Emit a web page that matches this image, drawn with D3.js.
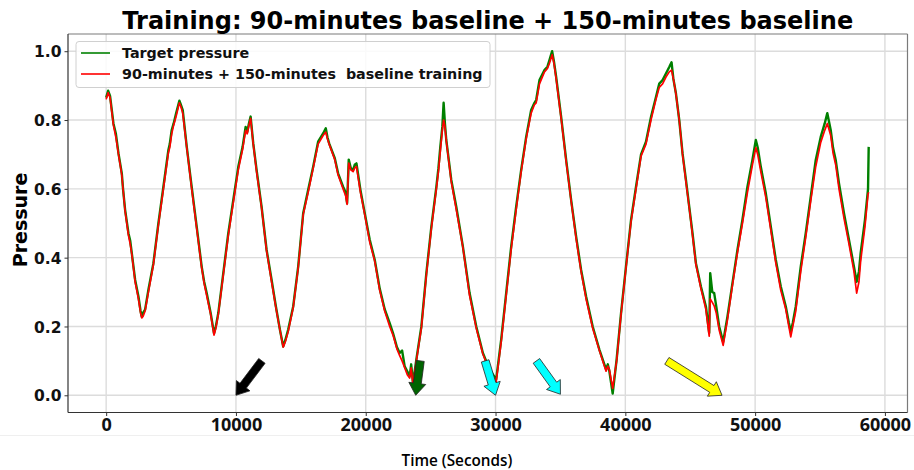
<!DOCTYPE html>
<html>
<head>
<meta charset="utf-8">
<script src="https://cdn.jsdelivr.net/npm/d3@7"></script>
<style>
  html, body { margin: 0; padding: 0; background: #fff; }
  svg { display: block; }
</style>
</head>
<body>
<div id="chart"></div>
<script>
// ---------------- data ----------------
const times = [0,150,300,560,750,950,1205,1300,1460,1718,1850,1975,2230,2487,2650,2745,2850,3000,3256,3640,4025,4410,4795,4900,5050,5200,5385,5640,5750,5900,6210,6590,6975,7360,7550,7745,8050,8310,8450,8640,9025,9410,9795,10180,10513,10745,10870,11000,11130,11333,11590,11975,12360,12745,13077,13385,13640,13800,14025,14410,14795,15180,15565,15950,16330,16715,16920,17050,17180,17615,17870,18255,18450,18565,18690,18850,19025,19150,19285,19590,19923,20308,20692,21077,21460,21846,22100,22400,22615,22800,23000,23200,23385,23500,23640,23900,24285,24670,25055,25440,25600,25746,25900,26000,26100,26205,26590,26975,27485,28000,28515,29025,29538,30050,30435,30820,31205,31590,31975,32360,32745,33000,33130,33385,33770,34000,34154,34360,34500,34670,35055,35440,35823,36210,36590,36977,37485,38000,38515,38650,38770,39025,39330,39670,40050,40440,40823,41210,41590,41977,42360,42615,42870,43130,43385,43560,43700,43900,44154,44408,44670,44923,45177,45438,45823,46208,46462,46540,46700,46846,47000,47230,47538,47870,48254,48640,49023,49408,49792,50054,50200,50438,50823,51208,51592,51977,52362,52600,52746,52900,53130,53515,53900,54285,54670,55054,55362,55562,55823,56000,56208,56462,56846,57230,57615,57823,58000,58130,58462,58700,58750];

const targetPressure = [0.865,0.885,0.87,0.79,0.76,0.703,0.645,0.6,0.539,0.471,0.45,0.413,0.336,0.287,0.245,0.228,0.24,0.249,0.307,0.384,0.5,0.606,0.713,0.73,0.771,0.79,0.819,0.856,0.845,0.829,0.722,0.606,0.49,0.374,0.33,0.297,0.239,0.18,0.2,0.239,0.355,0.471,0.568,0.664,0.722,0.78,0.765,0.79,0.81,0.732,0.655,0.548,0.423,0.336,0.258,0.191,0.142,0.16,0.191,0.258,0.374,0.529,0.597,0.664,0.737,0.761,0.776,0.75,0.732,0.689,0.645,0.606,0.59,0.558,0.685,0.66,0.655,0.67,0.674,0.597,0.529,0.452,0.394,0.31,0.25,0.21,0.181,0.14,0.123,0.13,0.084,0.07,0.055,0.09,0.036,0.104,0.2,0.355,0.49,0.606,0.66,0.722,0.78,0.85,0.79,0.742,0.626,0.548,0.432,0.297,0.2,0.123,0.075,0.046,0.162,0.297,0.432,0.548,0.655,0.751,0.829,0.85,0.858,0.916,0.945,0.955,0.974,1.0,0.97,0.925,0.809,0.684,0.568,0.461,0.365,0.287,0.2,0.133,0.075,0.09,0.07,0.005,0.104,0.239,0.374,0.51,0.606,0.7,0.737,0.809,0.867,0.906,0.916,0.935,0.954,0.968,0.92,0.877,0.8,0.703,0.626,0.548,0.471,0.384,0.316,0.258,0.181,0.355,0.3,0.297,0.26,0.2,0.155,0.229,0.326,0.423,0.51,0.606,0.684,0.742,0.72,0.664,0.587,0.49,0.394,0.316,0.258,0.21,0.185,0.21,0.258,0.374,0.471,0.577,0.684,0.751,0.79,0.82,0.771,0.72,0.684,0.616,0.529,0.452,0.374,0.33,0.36,0.413,0.51,0.6,0.722];

const trainedPressure = [0.86,0.88,0.865,0.785,0.75,0.7,0.64,0.6,0.535,0.465,0.44,0.41,0.33,0.28,0.24,0.225,0.23,0.245,0.3,0.38,0.495,0.6,0.705,0.72,0.76,0.785,0.81,0.85,0.84,0.82,0.72,0.6,0.485,0.37,0.325,0.29,0.235,0.175,0.195,0.235,0.35,0.465,0.56,0.655,0.715,0.77,0.76,0.785,0.805,0.73,0.65,0.545,0.42,0.33,0.255,0.19,0.14,0.155,0.185,0.255,0.37,0.525,0.59,0.66,0.73,0.755,0.765,0.745,0.73,0.685,0.64,0.6,0.58,0.555,0.675,0.655,0.65,0.66,0.665,0.59,0.525,0.445,0.39,0.305,0.245,0.2,0.175,0.135,0.115,0.1,0.08,0.06,0.05,0.08,0.03,0.1,0.195,0.35,0.485,0.6,0.65,0.71,0.77,0.8,0.78,0.74,0.62,0.54,0.43,0.29,0.195,0.12,0.07,0.04,0.155,0.29,0.425,0.54,0.65,0.745,0.82,0.845,0.85,0.905,0.94,0.95,0.965,0.99,0.965,0.92,0.805,0.68,0.565,0.455,0.36,0.28,0.195,0.13,0.07,0.085,0.075,0.02,0.1,0.235,0.37,0.505,0.6,0.695,0.73,0.8,0.86,0.895,0.905,0.925,0.94,0.945,0.92,0.875,0.8,0.7,0.62,0.545,0.465,0.38,0.31,0.25,0.172,0.28,0.27,0.26,0.24,0.19,0.145,0.22,0.32,0.415,0.5,0.59,0.67,0.72,0.7,0.65,0.575,0.48,0.385,0.305,0.25,0.2,0.17,0.2,0.245,0.36,0.46,0.565,0.665,0.735,0.77,0.79,0.755,0.705,0.67,0.6,0.515,0.44,0.36,0.297,0.33,0.39,0.49,0.585,0.59];

const xTicks = [0, 10000, 20000, 30000, 40000, 50000, 60000];
const yTicks = [0.0, 0.2, 0.4, 0.6, 0.8, 1.0];
const seriesNames = ["Target pressure", "90-minutes + 150-minutes  baseline training"];
const seriesColors = ["green", "red"];

// arrows: [tailX, tailY] -> [tipX, tipY] in data units
const arrowTails = [[12000, 0.1], [24200, 0.1], [29200, 0.1], [33150, 0.1], [43200, 0.1]];
const arrowTips  = [[10000, 0.0], [23850, 0.0], [30000, 0.0], [35000, 0.003], [47450, 0.0]];
const arrowColors = ["black", "darkgreen", "cyan", "cyan", "yellow"];

// ---------------- layout ----------------
const W = 914, H = 470;
const pLeft = 68, pRight = 907.5, pTop = 34, pBottom = 412.5;

const svg = d3.select("#chart").append("svg").attr("width", W).attr("height", H);

const xMin = 0, xMax = 58800;
const xPad = (xMax - xMin) * 0.05;
const x = d3.scaleLinear().domain([xMin - xPad, xMax + xPad]).range([pLeft, pRight]);
const y = d3.scaleLinear().domain([-0.05, 1.05]).range([pBottom, pTop]);

// faint separator line under tick labels
svg.append("line").attr("x1", 0).attr("x2", W).attr("y1", 435.5).attr("y2", 435.5)
  .attr("stroke", "#efefef").attr("stroke-width", 1);

// grid
const grid = svg.append("g");
grid.selectAll(".gx").data(xTicks).enter().append("line")
  .attr("x1", d => x(d)).attr("x2", d => x(d)).attr("y1", pTop).attr("y2", pBottom)
  .attr("stroke", "#dcdcdc").attr("stroke-width", 1.4);
grid.selectAll(".gy").data(yTicks).enter().append("line")
  .attr("x1", pLeft).attr("x2", pRight).attr("y1", d => y(d)).attr("y2", d => y(d))
  .attr("stroke", "#dcdcdc").attr("stroke-width", 1.4);

// lines
const data1 = times.map((t, i) => [t, targetPressure[i]]);
const data2 = times.map((t, i) => [t, trainedPressure[i]]);
const line = d3.line().x(d => x(d[0])).y(d => y(d[1]));

const plot = svg.append("g");
plot.append("path").datum(data1).attr("d", line).attr("fill", "none")
  .attr("stroke", seriesColors[0]).attr("stroke-width", 2.4).attr("stroke-linejoin", "round");
plot.append("path").datum(data2).attr("d", line).attr("fill", "none")
  .attr("stroke", seriesColors[1]).attr("stroke-width", 1.7).attr("stroke-linejoin", "round");

// arrows
const arrowG = svg.append("g");
arrowTails.forEach((tail, i) => {
  const p0 = [x(tail[0]), y(tail[1])];
  const p1 = [x(arrowTips[i][0]), y(arrowTips[i][1])];
  const dx = p1[0] - p0[0], dy = p1[1] - p0[1];
  const L = Math.hypot(dx, dy);
  const ux = dx / L, uy = dy / L, nx = -uy, ny = ux;
  const w = 4, hw = 8.5, hl = 12;
  const nk = [p1[0] - ux * hl, p1[1] - uy * hl];
  const pts = [
    [p0[0] + nx * w, p0[1] + ny * w],
    [nk[0] + nx * w, nk[1] + ny * w],
    [nk[0] + nx * hw, nk[1] + ny * hw],
    p1,
    [nk[0] - nx * hw, nk[1] - ny * hw],
    [nk[0] - nx * w, nk[1] - ny * w],
    [p0[0] - nx * w, p0[1] - ny * w]
  ];
  arrowG.append("polygon").attr("points", pts.map(p => p.join(",")).join(" "))
    .attr("fill", arrowColors[i]).attr("stroke", "#222").attr("stroke-width", 0.8)
    .attr("stroke-linejoin", "miter");
});

// spines
svg.append("line").attr("x1", pLeft).attr("x2", pRight).attr("y1", pTop).attr("y2", pTop)
  .attr("stroke", "#7a7a7a").attr("stroke-width", 1.2);
svg.append("line").attr("x1", pRight).attr("x2", pRight).attr("y1", pTop).attr("y2", pBottom)
  .attr("stroke", "#7a7a7a").attr("stroke-width", 1.2);
svg.append("line").attr("x1", pLeft).attr("x2", pLeft).attr("y1", pTop).attr("y2", pBottom)
  .attr("stroke", "#333").attr("stroke-width", 1.2);
svg.append("line").attr("x1", pLeft).attr("x2", pRight).attr("y1", pBottom).attr("y2", pBottom)
  .attr("stroke", "#333").attr("stroke-width", 1.2);

// axes
const xAxis = d3.axisBottom(x).tickValues(xTicks).tickSize(3.5).tickPadding(3).tickFormat(d3.format("d"));
const gx = svg.append("g").attr("transform", `translate(0,${pBottom})`).call(xAxis);
gx.select(".domain").remove();
gx.selectAll(".tick line").attr("stroke", "#333");
gx.selectAll(".tick text").attr("font-family", "'Open Sans', sans-serif").attr("font-weight", "bold")
  .attr("font-size", 18).attr("fill", "#111").attr("dy", null).attr("y", 18.5);

const yAxis = d3.axisLeft(y).tickValues(yTicks).tickSize(3.5).tickPadding(4).tickFormat(d3.format(".1f"));
const gy = svg.append("g").attr("transform", `translate(${pLeft},0)`).call(yAxis);
gy.select(".domain").remove();
gy.selectAll(".tick line").attr("stroke", "#333");
gy.selectAll(".tick text").attr("font-family", "'DejaVu Sans', sans-serif").attr("font-weight", "bold")
  .attr("font-size", 15.5).attr("fill", "#111").attr("x", -6.5).attr("dy", "0.36em");

// title and labels
svg.append("text").attr("x", (pLeft + pRight) / 2).attr("y", 29).attr("text-anchor", "middle")
  .attr("font-family", "'DejaVu Sans', sans-serif").attr("font-weight", "bold").attr("font-size", 24)
  .attr("fill", "#000").text("Training: 90-minutes baseline + 150-minutes baseline");

svg.append("text").attr("transform", "translate(27,220) rotate(-90)").attr("text-anchor", "middle")
  .attr("font-family", "'DejaVu Sans', sans-serif").attr("font-weight", "bold").attr("font-size", 19)
  .attr("fill", "#000").text("Pressure");

svg.append("text").attr("x", 457).attr("y", 466).attr("text-anchor", "middle")
  .attr("font-family", "'Open Sans', sans-serif").attr("font-weight", 600).attr("font-size", 15.3)
  .attr("fill", "#000").text("Time (Seconds)");

// legend
const lg = svg.append("g");
lg.append("rect").attr("x", 76).attr("y", 41.5).attr("width", 414).attr("height", 46).attr("rx", 3)
  .attr("fill", "rgba(255,255,255,0.85)").attr("stroke", "#d0d0d0").attr("stroke-width", 1);
seriesNames.forEach((name, i) => {
  const cy = 53 + i * 21;
  lg.append("line").attr("x1", 81).attr("x2", 110).attr("y1", cy).attr("y2", cy)
    .attr("stroke", seriesColors[i]).attr("stroke-width", 1.6);
  lg.append("text").attr("x", 122).attr("y", cy + 5).attr("xml:space", "preserve")
    .style("white-space", "pre")
    .attr("font-family", "'DejaVu Sans', sans-serif").attr("font-weight", "bold").attr("font-size", 14.3)
    .attr("fill", "#111").text(name);
});
</script>
</body>
</html>
